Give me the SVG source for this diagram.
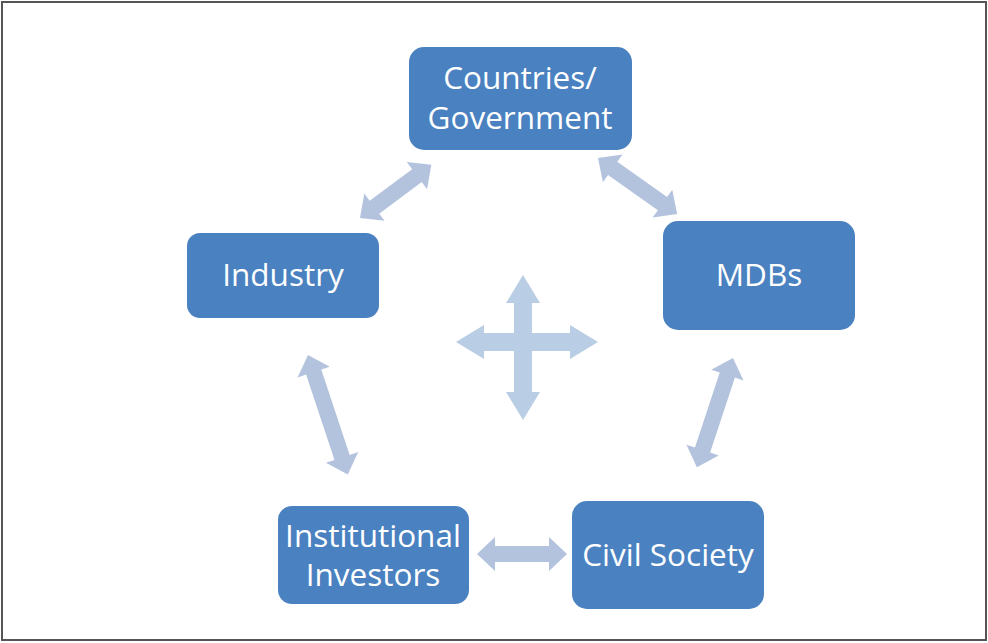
<svg xmlns="http://www.w3.org/2000/svg" width="988" height="643" viewBox="0 0 988 643">
<style>
.box{fill:#4a81c0;}
.lbl{font-family:"Open Sans","Liberation Sans",sans-serif;font-size:31.5px;fill:#ffffff;text-anchor:middle;}
.arr{fill:#b3c3de;}
.cross{fill:#b9cde4;}
</style>
<rect x="2" y="2" width="984" height="638" fill="#ffffff" stroke="#555555" stroke-width="2"/>
<g id="connectors">
<polygon class="arr" transform="translate(360,218) rotate(-36.7)" points="0,0 18,-17 18,-8 71,-8 71,-17 89,0 71,17 71,8 18,8 18,17"/>
<polygon class="arr" transform="translate(598,158) rotate(35.3)" points="0,0 18,-17 18,-8 79,-8 79,-17 97,0 79,17 79,8 18,8 18,17"/>
<polygon class="arr" transform="translate(308,355) rotate(71.6)" points="0,0 18,-17 18,-8 108,-8 108,-17 126,0 108,17 108,8 18,8 18,17"/>
<polygon class="arr" transform="translate(733,358) rotate(108.3)" points="0,0 18,-17 18,-8 97,-8 97,-17 115,0 97,17 97,8 18,8 18,17"/>
<polygon class="arr" transform="translate(477,554)" points="0,0 18,-17 18,-8 72,-8 72,-17 90,0 72,17 72,8 18,8 18,17"/>
<g id="cross">
<polygon class="cross" points="523,275 540,303 532,303 532,392 540,392 523,420 506,392 514,392 514,303 506,303"/>
<polygon class="cross" points="456,342 484,325 484,333 570,333 570,325 598,342 570,359 570,351 484,351 484,359"/>
</g>
</g>
<g id="countries">
<rect class="box" x="409" y="47" width="223" height="103" rx="15"/>
<text class="lbl" x="520" y="89">Countries/</text>
<text class="lbl" x="520" y="129">Government</text>
</g>
<g id="industry">
<rect class="box" x="187" y="233" width="192" height="85" rx="13"/>
<text class="lbl" x="283" y="286">Industry</text>
</g>
<g id="mdbs">
<rect class="box" x="663" y="221" width="192" height="109" rx="15"/>
<text class="lbl" x="759" y="286">MDBs</text>
</g>
<g id="investors">
<rect class="box" x="278" y="506" width="191" height="98" rx="14"/>
<text class="lbl" x="373" y="547">Institutional</text>
<text class="lbl" x="373" y="586">Investors</text>
</g>
<g id="civil">
<rect class="box" x="572" y="501" width="192" height="108" rx="15"/>
<text class="lbl" x="668" y="566">Civil Society</text>
</g>
</svg>
